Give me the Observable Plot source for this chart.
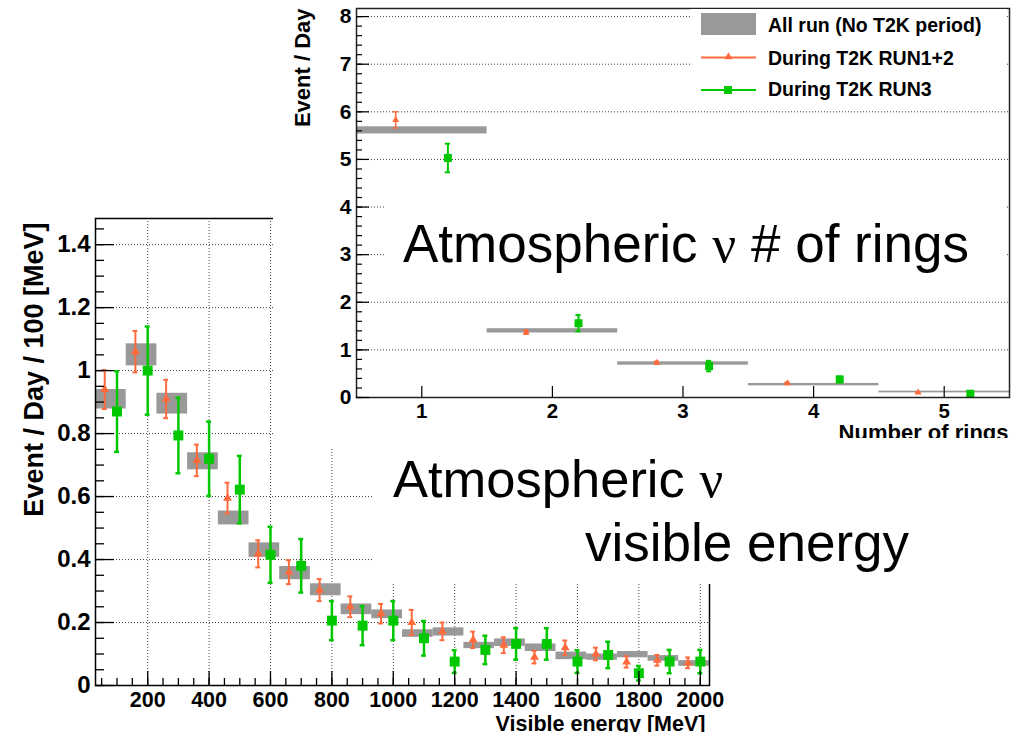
<!DOCTYPE html>
<html><head><meta charset="utf-8">
<script src="https://cdn.jsdelivr.net/npm/d3@7"></script>
<script src="https://cdn.jsdelivr.net/npm/@observablehq/plot@0.6"></script>
<style>
html,body{margin:0;padding:0;background:#fff;}
#wrap{position:relative;width:1025px;height:732px;overflow:hidden;background:#fff;}
#main{position:absolute;left:0;top:0;}
#inset{position:absolute;left:273px;top:0;}
#overlay{position:absolute;left:0;top:0;}
</style></head>
<body><div id="wrap"><div id="main"></div><div id="inset"></div><svg id="overlay" width="1025" height="732"></svg></div>
<script>
// ---------- Visible energy panel data (Event / Day / 100 MeV) ----------
const energyBins = [80,180,280,380,480,580,680,780,880,980,1080,1180,1280,1380,1480,1580,1680,1780,1880,1980];
const allRunVal  = [0.909,1.050,0.895,0.712,0.532,0.430,0.357,0.304,0.242,0.226,0.165,0.170,0.127,0.136,0.120,0.094,0.090,0.098,0.086,0.070];
const allRunErr  = [0.031,0.035,0.033,0.027,0.022,0.023,0.021,0.019,0.017,0.014,0.012,0.013,0.010,0.012,0.012,0.012,0.010,0.010,0.009,0.009];
const run12Val   = [0.940,1.060,0.910,0.715,0.595,0.418,0.360,0.303,0.250,0.228,0.200,0.172,0.145,0.128,0.090,0.120,0.100,0.075,0.080,0.072];
const run12Err   = [0.062,0.066,0.061,0.050,0.049,0.043,0.038,0.035,0.033,0.031,0.040,0.028,0.026,0.025,0.020,0.023,0.020,0.018,0.017,0.017];
const run3Val    = [0.870,1.000,0.794,0.720,0.622,0.415,0.380,0.206,0.190,0.206,0.150,0.076,0.113,0.132,0.132,0.076,0.097,0.039,0.076,0.076];
const run3Err    = [0.128,0.140,0.120,0.118,0.107,0.089,0.085,0.062,0.062,0.062,0.055,0.036,0.045,0.050,0.050,0.036,0.042,0.023,0.037,0.037];
const mainYTicks = [0,0.2,0.4,0.6,0.8,1,1.2,1.4];
const mainXTicks = [200,400,600,800,1000,1200,1400,1600,1800,2000];

// ---------- Number of rings panel data (Event / Day) ----------
const rings        = [1,2,3,4,5];
const ringAllVal   = [5.61,1.40,0.714,0.27,0.115];
const ringAllErr   = [0.075,0.045,0.035,0.025,0.018];
const ringRun12Val = [5.83,1.37,0.73,0.30,0.105];
const ringRun12Err = [0.17,0.04,0.03,0.02,0.01];
const ringRun3Val  = [5.03,1.56,0.66,0.38,0.08];
const ringRun3Err  = [0.30,0.17,0.11,0.06,0.03];
const insetYTicks = [0,1,2,3,4,5,6,7,8];
const insetXTicks = [1,2,3,4,5];

// ---------- Texts ----------
const mainYTitle = "Event / Day / 100 [MeV]";
const mainXTitle = "Visible energy [MeV]";
const insetYTitle = "Event / Day";
const insetXTitle = "Number of rings";
const legendLabels = ["All run (No T2K period)", "During T2K RUN1+2", "During T2K RUN3"];
const insetNote = ["Atmospheric ", "\u03BD", " # of rings"];
const mainNote1 = ["Atmospheric ", "\u03BD"];
const mainNote2 = "visible energy";

const ORANGE = "#ff6a3d", GREEN = "#00c800", GRAY = "#999999";
const FONT = "'Liberation Sans', Arial, Helvetica, sans-serif";
const dotted = {stroke: "#000", strokeOpacity: 0.75, strokeDasharray: "1,2", strokeWidth: 1};

const mainData = energyBins.map((c, i) => ({c, aV: allRunVal[i], aE: allRunErr[i], oV: run12Val[i], oE: run12Err[i], gV: run3Val[i], gE: run3Err[i]}));
const ringData = rings.map((k, i) => ({c: k, aV: ringAllVal[i], aE: ringAllErr[i], oV: ringRun12Val[i], oE: ringRun12Err[i], gV: ringRun3Val[i], gE: ringRun3Err[i]}));

// orange drawn at bin centre - off, green at bin centre + off
function seriesMarks(data, half, off, cap, sizes) {
  return [
    Plot.rect(data, {x1: d => d.c - half, x2: d => d.c + half, y1: d => d.aV - d.aE, y2: d => d.aV + d.aE, fill: GRAY}),
    Plot.ruleX(data, {x: d => d.c - off, y1: d => d.oV - d.oE, y2: d => d.oV + d.oE, stroke: ORANGE, strokeWidth: sizes.ow}),
    Plot.ruleY(data, {y: d => d.oV + d.oE, x1: d => d.c - off - cap, x2: d => d.c - off + cap, stroke: ORANGE, strokeWidth: sizes.ow}),
    Plot.ruleY(data, {y: d => d.oV - d.oE, x1: d => d.c - off - cap, x2: d => d.c - off + cap, stroke: ORANGE, strokeWidth: sizes.ow}),
    Plot.dot(data, {x: d => d.c - off, y: d => d.oV, symbol: "triangle", r: sizes.tr, fill: ORANGE, stroke: null}),
    Plot.ruleX(data, {x: d => d.c + off, y1: d => d.gV - d.gE, y2: d => d.gV + d.gE, stroke: GREEN, strokeWidth: sizes.gw}),
    Plot.ruleY(data, {y: d => d.gV + d.gE, x1: d => d.c + off - cap, x2: d => d.c + off + cap, stroke: GREEN, strokeWidth: sizes.gw}),
    Plot.ruleY(data, {y: d => d.gV - d.gE, x1: d => d.c + off - cap, x2: d => d.c + off + cap, stroke: GREEN, strokeWidth: sizes.gw}),
    Plot.dot(data, {x: d => d.c + off, y: d => d.gV, symbol: "square", r: sizes.sr, fill: GREEN, stroke: null})
  ];
}

const fmtY = d => String(+d.toFixed(1));

const mainPlot = Plot.plot({
  width: 740, height: 732,
  marginLeft: 95, marginRight: 31, marginTop: 218, marginBottom: 47,
  x: {domain: [30, 2030]},
  y: {domain: [0, 1.483]},
  style: {fontFamily: FONT, background: "#fff", color: "#000", overflow: "visible"},
  marks: [
    Plot.gridY(mainYTicks.filter(v => v > 0), dotted),
    Plot.gridX(mainXTicks, dotted),
    ...seriesMarks(mainData, 50, 20, 8, {ow: 2, gw: 2.5, tr: 3.3, sr: 5.6}),
    Plot.frame({stroke: "#000", strokeWidth: 1.5}),
    Plot.axisY(mainYTicks, {label: null, tickSize: -19, tickPadding: 24, fontSize: 24, fontWeight: "bold", tickFormat: fmtY, strokeWidth: 1.3}),
    Plot.axisY(d3.range(0, 1.47, 0.05), {label: null, tickSize: -9, tickFormat: () => "", strokeWidth: 1.3}),
    Plot.axisX(mainXTicks, {label: null, tickSize: -14, tickPadding: 20, fontSize: 21.5, fontWeight: "bold", tickFormat: d => String(d), strokeWidth: 1.3}),
    Plot.axisX(d3.range(50, 2001, 50), {label: null, tickSize: -7, tickFormat: () => "", strokeWidth: 1.3}),
    Plot.text([mainYTitle], {frameAnchor: "top-left", rotate: -90, textAnchor: "end", lineAnchor: "bottom", dx: -53, dy: 4, fontSize: 27, fontWeight: "bold"}),
    Plot.text([mainXTitle], {frameAnchor: "bottom-right", textAnchor: "end", lineAnchor: "bottom", dx: -4, dy: 45.5, fontSize: 21.5, fontWeight: "bold"})
  ]
});
document.getElementById("main").appendChild(mainPlot);

const insetPlot = Plot.plot({
  width: 752, height: 448,
  marginLeft: 83, marginRight: 16, marginTop: 8, marginBottom: 51,
  x: {domain: [0.5, 5.5]},
  y: {domain: [0, 8.17]},
  style: {fontFamily: FONT, background: "#fff", color: "#000", overflow: "visible"},
  marks: [
    Plot.gridY(insetYTicks.filter(v => v > 0), dotted),
    ...seriesMarks(ringData, 0.5, 0.2, 0.02, {ow: 1.5, gw: 2, tr: 2.6, sr: 4.5}),
    Plot.frame({stroke: "#222", strokeWidth: 1.5}),
    Plot.axisY(insetYTicks, {label: null, tickSize: -13, tickPadding: 18, fontSize: 21, fontWeight: "bold", tickFormat: d => String(d), strokeWidth: 1.2}),
    Plot.axisY(d3.range(0, 8.1, 0.2), {label: null, tickSize: -6, tickFormat: () => "", strokeWidth: 1.2}),
    Plot.axisX(insetXTicks, {label: null, tickSize: -11, tickPadding: 17, fontSize: 20.5, fontWeight: "bold", tickFormat: d => String(d), strokeWidth: 1.2}),
    Plot.text([insetYTitle], {frameAnchor: "top-left", rotate: -90, textAnchor: "end", lineAnchor: "bottom", dx: -47, dy: 0, fontSize: 22, fontWeight: "bold"}),
    Plot.text([insetXTitle], {frameAnchor: "bottom-right", textAnchor: "end", lineAnchor: "bottom", dx: -1, dy: 42, fontSize: 22, fontWeight: "bold"})
  ]
});
document.getElementById("inset").appendChild(insetPlot);

// ---------- Overlay: text boxes and legend ----------
const ov = d3.select("#overlay");
function bigText(parts, x, y, size) {
  const t = ov.append("text").attr("x", x).attr("y", y).attr("font-family", FONT).attr("font-size", size).attr("fill", "#000");
  parts.forEach(p => {
    const s = t.append("tspan").text(p);
    if (p === "\u03BD") s.attr("font-family", "'Liberation Serif', 'DejaVu Serif', serif");
  });
  return t;
}
// inset note box
ov.append("rect").attr("x", 385).attr("y", 180).attr("width", 622).attr("height", 110).attr("fill", "#fff");
bigText(insetNote, 403, 262, 53);

// legend
const lg = ov.append("g").attr("font-family", FONT).attr("font-weight", "bold").attr("font-size", 19.5);
lg.append("rect").attr("x", 690).attr("y", 9).attr("width", 317).attr("height", 96).attr("fill", "#fff");
lg.append("rect").attr("x", 701).attr("y", 13).attr("width", 55).attr("height", 22).attr("fill", GRAY);
lg.append("line").attr("x1", 701).attr("x2", 756).attr("y1", 57.5).attr("y2", 57.5).attr("stroke", ORANGE).attr("stroke-width", 2);
lg.append("path").attr("d", d3.symbol(d3.symbolTriangle, Math.PI * 3 * 3)()).attr("transform", "translate(728.5,57)").attr("fill", ORANGE);
lg.append("line").attr("x1", 701).attr("x2", 756).attr("y1", 90).attr("y2", 90).attr("stroke", GREEN).attr("stroke-width", 2);
lg.append("rect").attr("x", 724).attr("y", 86).attr("width", 8).attr("height", 8).attr("fill", GREEN);
[31.5, 65, 96].forEach((y, i) => lg.append("text").attr("x", 768).attr("y", y).attr("fill", "#000").text(legendLabels[i]));

// main note box
ov.append("rect").attr("x", 372).attr("y", 438).attr("width", 653).attr("height", 146).attr("fill", "#fff");
bigText(mainNote1, 393, 497, 52.5);
bigText([mainNote2], 585, 561, 53);
</script>
</body></html>
